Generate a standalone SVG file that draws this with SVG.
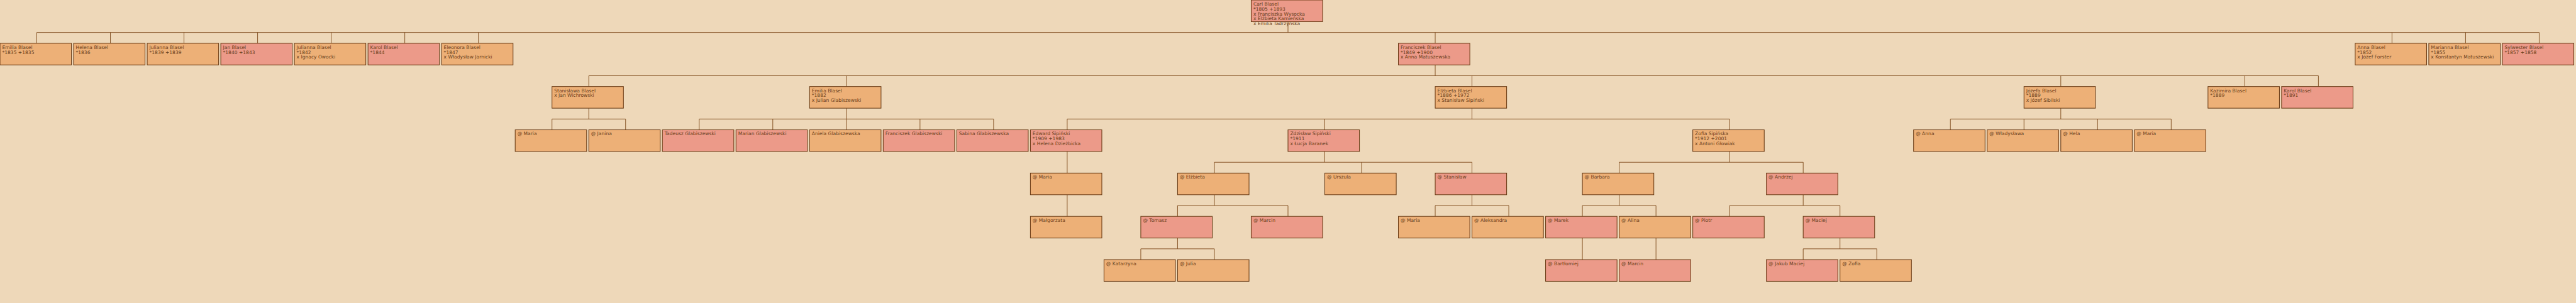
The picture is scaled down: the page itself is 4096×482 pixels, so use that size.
<svg xmlns="http://www.w3.org/2000/svg" width="4096" height="482" viewBox="0 0 4096 482">
<style>
.o{fill:#EDB077;stroke:#673812;stroke-width:1.5}
.p{fill:#EC9A89;stroke:#673812;stroke-width:1.5}
text{font-family:"DejaVu Sans",sans-serif;font-size:11px;fill:#6A3E1A}
.c{fill:none;stroke:#7A4516;stroke-width:1.3}
</style>
<rect x="0" y="0" width="4096" height="482" fill="#EED8B9"/>
<g transform="scale(0.6884)">
<g id="connectors" class="c">
<path d="M2975 50V75M85 75H5865M85 75V100M255 75V100M425 75V100M595 75V100M765 75V100M935 75V100M1105 75V100M3315 75V100M5525 75V100M5695 75V100M5865 75V100"/>
<path d="M3315 150V175M1360 175H5355M1360 175V200M1955 175V200M3400 175V200M4760 175V200M5185 175V200M5355 175V200"/>
<path d="M1360 250V275M1275 275H1445M1275 275V300M1445 275V300"/>
<path d="M1955 250V275M1615 275H2295M1615 275V300M1785 275V300M1955 275V300M2125 275V300M2295 275V300"/>
<path d="M3400 250V275M2465 275H3995M2465 275V300M3060 275V300M3995 275V300"/>
<path d="M4760 250V275M4505 275H5015M4505 275V300M4675 275V300M4845 275V300M5015 275V300"/>
<path d="M2465 350V400"/>
<path d="M3060 350V375M2805 375H3400M2805 375V400M3145 375V400M3400 375V400"/>
<path d="M3995 350V375M3740 375H4165M3740 375V400M4165 375V400"/>
<path d="M2465 450V500"/>
<path d="M2805 450V475M2720 475H2975M2720 475V500M2975 475V500"/>
<path d="M3400 450V475M3315 475H3485M3315 475V500M3485 475V500"/>
<path d="M3740 450V475M3655 475H3825M3655 475V500M3825 475V500"/>
<path d="M4165 450V475M3995 475H4250M3995 475V500M4250 475V500"/>
<path d="M2720 550V575M2635 575H2805M2635 575V600M2805 575V600"/>
<path d="M3655 550V600"/>
<path d="M3825 550V600"/>
<path d="M4250 550V575M4165 575H4335M4165 575V600M4335 575V600"/>
</g>

<g id="n-carl"><rect class="p" x="2890" y="0" width="165" height="50"/><text><tspan x="2895" y="13">Carl Blasel</tspan><tspan x="2895" y="24.3">*1805 +1893</tspan><tspan x="2895" y="35.6">x Franciszka Wysocka</tspan><tspan x="2895" y="47">x Elżbieta Kamieńska</tspan><tspan x="2895" y="58.3">x Emilia Tadrzyńska</tspan></text></g>

<g id="n-emilia1835"><rect class="o" x="0" y="100" width="165" height="50"/><text><tspan x="5" y="113">Emilia Blasel</tspan><tspan x="5" y="124.3">*1835 +1835</tspan></text></g>
<g id="n-helena"><rect class="o" x="170" y="100" width="165" height="50"/><text><tspan x="175" y="113">Helena Blasel</tspan><tspan x="175" y="124.3">*1836</tspan></text></g>
<g id="n-julianna1839"><rect class="o" x="340" y="100" width="165" height="50"/><text><tspan x="345" y="113">Julianna Blasel</tspan><tspan x="345" y="124.3">*1839 +1839</tspan></text></g>
<g id="n-jan"><rect class="p" x="510" y="100" width="165" height="50"/><text><tspan x="515" y="113">Jan Blasel</tspan><tspan x="515" y="124.3">*1840 +1843</tspan></text></g>
<g id="n-julianna1842"><rect class="o" x="680" y="100" width="165" height="50"/><text><tspan x="685" y="113">Julianna Blasel</tspan><tspan x="685" y="124.3">*1842</tspan><tspan x="685" y="135.6">x Ignacy Owocki</tspan></text></g>
<g id="n-karol1844"><rect class="p" x="850" y="100" width="165" height="50"/><text><tspan x="855" y="113">Karol Blasel</tspan><tspan x="855" y="124.3">*1844</tspan></text></g>
<g id="n-eleonora"><rect class="o" x="1020" y="100" width="165" height="50"/><text><tspan x="1025" y="113">Eleonora Blasel</tspan><tspan x="1025" y="124.3">*1847</tspan><tspan x="1025" y="135.6">x Władysław Jarnicki</tspan></text></g>
<g id="n-franciszek"><rect class="p" x="3230" y="100" width="165" height="50"/><text><tspan x="3235" y="113">Franciszek Blasel</tspan><tspan x="3235" y="124.3">*1849 +1900</tspan><tspan x="3235" y="135.6">x Anna Matuszewska</tspan></text></g>
<g id="n-anna1852"><rect class="o" x="5440" y="100" width="165" height="50"/><text><tspan x="5445" y="113">Anna Blasel</tspan><tspan x="5445" y="124.3">*1852</tspan><tspan x="5445" y="135.6">x Józef Forster</tspan></text></g>
<g id="n-marianna"><rect class="o" x="5610" y="100" width="165" height="50"/><text><tspan x="5615" y="113">Marianna Blasel</tspan><tspan x="5615" y="124.3">*1855</tspan><tspan x="5615" y="135.6">x Konstantyn Matuszewski</tspan></text></g>
<g id="n-sylwester"><rect class="p" x="5780" y="100" width="165" height="50"/><text><tspan x="5785" y="113">Sylwester Blasel</tspan><tspan x="5785" y="124.3">*1857 +1858</tspan></text></g>

<g id="n-stanislawa"><rect class="o" x="1275" y="200" width="165" height="50"/><text><tspan x="1280" y="213">Stanisława Blasel</tspan><tspan x="1280" y="224.3">x Jan Wichrowski</tspan></text></g>
<g id="n-emilia1882"><rect class="o" x="1870" y="200" width="165" height="50"/><text><tspan x="1875" y="213">Emilia Blasel</tspan><tspan x="1875" y="224.3">*1882</tspan><tspan x="1875" y="235.6">x Julian Glabiszewski</tspan></text></g>
<g id="n-elzbieta1886"><rect class="o" x="3315" y="200" width="165" height="50"/><text><tspan x="3320" y="213">Elżbieta Blasel</tspan><tspan x="3320" y="224.3">*1886 +1972</tspan><tspan x="3320" y="235.6">x Stanisław Sipiński</tspan></text></g>
<g id="n-jozefa"><rect class="o" x="4675" y="200" width="165" height="50"/><text><tspan x="4680" y="213">Józefa Blasel</tspan><tspan x="4680" y="224.3">*1889</tspan><tspan x="4680" y="235.6">x Józef Sibilski</tspan></text></g>
<g id="n-kazimira"><rect class="o" x="5100" y="200" width="165" height="50"/><text><tspan x="5105" y="213">Kazimira Blasel</tspan><tspan x="5105" y="224.3">*1889</tspan></text></g>
<g id="n-karol1891"><rect class="p" x="5270" y="200" width="165" height="50"/><text><tspan x="5275" y="213">Karol Blasel</tspan><tspan x="5275" y="224.3">*1891</tspan></text></g>

<g id="n-maria-w"><rect class="o" x="1190" y="300" width="165" height="50"/><text x="1195" y="313">@ Maria</text></g>
<g id="n-janina"><rect class="o" x="1360" y="300" width="165" height="50"/><text x="1365" y="313">@ Janina</text></g>
<g id="n-tadeusz"><rect class="p" x="1530" y="300" width="165" height="50"/><text x="1535" y="313">Tadeusz Glabiszewski</text></g>
<g id="n-marian"><rect class="p" x="1700" y="300" width="165" height="50"/><text x="1705" y="313">Marian Glabiszewski</text></g>
<g id="n-aniela"><rect class="o" x="1870" y="300" width="165" height="50"/><text x="1875" y="313">Aniela Glabiszewska</text></g>
<g id="n-franciszek-g"><rect class="p" x="2040" y="300" width="165" height="50"/><text x="2045" y="313">Franciszek Glabiszewski</text></g>
<g id="n-sabina"><rect class="p" x="2210" y="300" width="165" height="50"/><text x="2215" y="313">Sabina Glabiszewska</text></g>
<g id="n-edward"><rect class="p" x="2380" y="300" width="165" height="50"/><text><tspan x="2385" y="313">Edward Sipiński</tspan><tspan x="2385" y="324.3">*1909 +1983</tspan><tspan x="2385" y="335.6">x Helena Dzieżbicka</tspan></text></g>
<g id="n-zdzislaw"><rect class="p" x="2975" y="300" width="165" height="50"/><text><tspan x="2980" y="313">Zdzisław Sipiński</tspan><tspan x="2980" y="324.3">*1911</tspan><tspan x="2980" y="335.6">x Łucja Baranek</tspan></text></g>
<g id="n-zofia1912"><rect class="o" x="3910" y="300" width="165" height="50"/><text><tspan x="3915" y="313">Zofia Sipińska</tspan><tspan x="3915" y="324.3">*1912 +2001</tspan><tspan x="3915" y="335.6">x Antoni Głowiak</tspan></text></g>
<g id="n-anna-s"><rect class="o" x="4420" y="300" width="165" height="50"/><text x="4425" y="313">@ Anna</text></g>
<g id="n-wladyslawa"><rect class="o" x="4590" y="300" width="165" height="50"/><text x="4595" y="313">@ Władysława</text></g>
<g id="n-hela"><rect class="o" x="4760" y="300" width="165" height="50"/><text x="4765" y="313">@ Hela</text></g>
<g id="n-maria-s"><rect class="o" x="4930" y="300" width="165" height="50"/><text x="4935" y="313">@ Maria</text></g>

<g id="n-maria-e"><rect class="o" x="2380" y="400" width="165" height="50"/><text x="2385" y="413">@ Maria</text></g>
<g id="n-elzbieta-z"><rect class="o" x="2720" y="400" width="165" height="50"/><text x="2725" y="413">@ Elżbieta</text></g>
<g id="n-urszula"><rect class="o" x="3060" y="400" width="165" height="50"/><text x="3065" y="413">@ Urszula</text></g>
<g id="n-stanislaw"><rect class="p" x="3315" y="400" width="165" height="50"/><text x="3320" y="413">@ Stanisław</text></g>
<g id="n-barbara"><rect class="o" x="3655" y="400" width="165" height="50"/><text x="3660" y="413">@ Barbara</text></g>
<g id="n-andrzej"><rect class="p" x="4080" y="400" width="165" height="50"/><text x="4085" y="413">@ Andrzej</text></g>

<g id="n-malgorzata"><rect class="o" x="2380" y="500" width="165" height="50"/><text x="2385" y="513">@ Małgorzata</text></g>
<g id="n-tomasz"><rect class="p" x="2635" y="500" width="165" height="50"/><text x="2640" y="513">@ Tomasz</text></g>
<g id="n-marcin-e"><rect class="p" x="2890" y="500" width="165" height="50"/><text x="2895" y="513">@ Marcin</text></g>
<g id="n-maria-st"><rect class="o" x="3230" y="500" width="165" height="50"/><text x="3235" y="513">@ Maria</text></g>
<g id="n-aleksandra"><rect class="o" x="3400" y="500" width="165" height="50"/><text x="3405" y="513">@ Aleksandra</text></g>
<g id="n-marek"><rect class="p" x="3570" y="500" width="165" height="50"/><text x="3575" y="513">@ Marek</text></g>
<g id="n-alina"><rect class="o" x="3740" y="500" width="165" height="50"/><text x="3745" y="513">@ Alina</text></g>
<g id="n-piotr"><rect class="p" x="3910" y="500" width="165" height="50"/><text x="3915" y="513">@ Piotr</text></g>
<g id="n-maciej"><rect class="p" x="4165" y="500" width="165" height="50"/><text x="4170" y="513">@ Maciej</text></g>

<g id="n-katarzyna"><rect class="o" x="2550" y="600" width="165" height="50"/><text x="2555" y="613">@ Katarzyna</text></g>
<g id="n-julia"><rect class="o" x="2720" y="600" width="165" height="50"/><text x="2725" y="613">@ Julia</text></g>
<g id="n-bartlomiej"><rect class="p" x="3570" y="600" width="165" height="50"/><text x="3575" y="613">@ Bartłomiej</text></g>
<g id="n-marcin-a"><rect class="p" x="3740" y="600" width="165" height="50"/><text x="3745" y="613">@ Marcin</text></g>
<g id="n-jakub"><rect class="p" x="4080" y="600" width="165" height="50"/><text x="4085" y="613">@ Jakub Maciej</text></g>
<g id="n-zofia-m"><rect class="o" x="4250" y="600" width="165" height="50"/><text x="4255" y="613">@ Zofia</text></g>
</g>
</svg>
